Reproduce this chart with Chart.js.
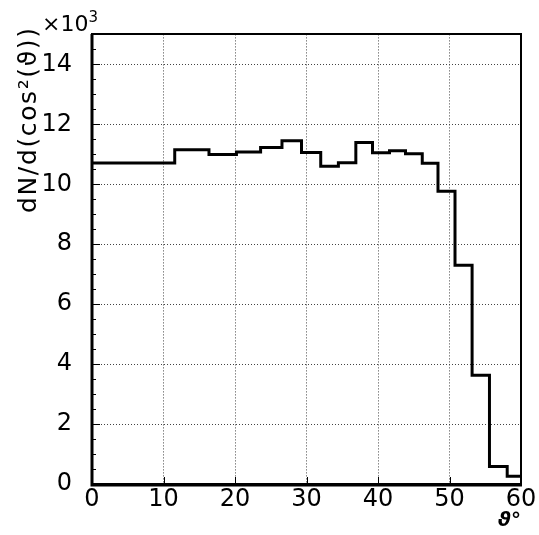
<!DOCTYPE html>
<html>
<head>
<meta charset="utf-8">
<script src="https://cdn.jsdelivr.net/npm/chart.js@4/dist/chart.umd.min.js"></script>
<style>
  html, body { margin: 0; padding: 0; background: #fff; }
  #wrap { width: 539px; height: 535px; }
</style>
</head>
<body>
<div id="wrap"><canvas id="c" width="539" height="535"></canvas></div>
<script>
// Bin edges in theta (degrees)
const binEdges = [0, 11.57, 16.36, 20.2, 23.58, 26.57, 29.3, 31.99, 34.46, 36.9, 39.23, 41.61, 43.85, 46.19, 48.39, 50.77, 53.16, 55.59, 58.07, 60];
// Counts per bin, in units of 10^3
const binCounts = [10.71, 11.15, 10.99, 11.08, 11.23, 11.45, 11.06, 10.60, 10.72, 11.39, 11.05, 11.12, 11.02, 10.70, 9.77, 7.30, 3.63, 0.58, 0.26];
const xTicks = [0, 10, 20, 30, 40, 50, 60];
const yTicks = [0, 2, 4, 6, 8, 10, 12, 14];
const yMinorTicks = [0.5, 1, 1.5, 2.5, 3, 3.5, 4.5, 5, 5.5, 6.5, 7, 7.5, 8.5, 9, 9.5, 10.5, 11, 11.5, 12.5, 13, 13.5, 14.5];
const xTitle = 'ϑ°';
const yTitle = 'dN/d(cos²(ϑ))';
const exponentBase = '×10';
const exponentPower = '3';

const points = binCounts.map((v, i) => ({ x: binEdges[i], y: v }));
points.push({ x: binEdges[binEdges.length - 1], y: binCounts[binCounts.length - 1] });

const FONT = '"DejaVu Sans", sans-serif';

const framePlugin = {
  id: 'rootFrame',
  afterDatasetsDraw(chart) {
    const { ctx, chartArea: a, scales } = chart;
    const xs = scales.x, ys = scales.y;
    ctx.save();
    ctx.strokeStyle = '#000';
    // inner ticks
    ctx.lineWidth = 1;
    ctx.beginPath();
    yTicks.forEach(v => {
      const y = Math.round(ys.getPixelForValue(v)) + 0.5;
      ctx.moveTo(a.left, y); ctx.lineTo(a.left + 8, y);
    });
    yMinorTicks.forEach(v => {
      const y = Math.round(ys.getPixelForValue(v)) + 0.5;
      ctx.moveTo(a.left, y); ctx.lineTo(a.left + 4, y);
    });
    xTicks.forEach(v => {
      const x = Math.round(xs.getPixelForValue(v)) + 0.5;
      ctx.moveTo(x, a.bottom); ctx.lineTo(x, a.bottom - 7);
    });
    ctx.stroke();
    // frame
    ctx.lineWidth = 2;
    ctx.strokeRect(Math.round(a.left), Math.round(a.top), Math.round(a.right) - Math.round(a.left), Math.round(a.bottom) - Math.round(a.top));
    ctx.lineWidth = 3;
    ctx.beginPath();
    ctx.moveTo(Math.round(a.left), Math.round(a.top));
    ctx.lineTo(Math.round(a.left), Math.round(a.bottom) + 1);
    ctx.lineTo(Math.round(a.right) + 1, Math.round(a.bottom) + 1);
    ctx.stroke();
    // exponent label
    ctx.fillStyle = '#000';
    ctx.textBaseline = 'alphabetic';
    ctx.textAlign = 'left';
    ctx.font = '22px ' + FONT;
    ctx.fillText(exponentBase, 42, 31);
    const w = ctx.measureText(exponentBase).width;
    ctx.font = '15px ' + FONT;
    ctx.fillText(exponentPower, 42 + w, 22);
    // y-axis title (rotated), stretched to the reference length
    ctx.save();
    ctx.translate(36, 213);
    ctx.rotate(-Math.PI / 2);
    ctx.font = '25px ' + FONT;
    const tw = ctx.measureText(yTitle).width;
    const target = 185;
    if ('letterSpacing' in ctx && tw < target) {
      ctx.letterSpacing = ((target - tw) / (yTitle.length - 1)).toFixed(2) + 'px';
    }
    ctx.fillText(yTitle, 0, 0);
    ctx.restore();
    ctx.restore();
  }
};

new Chart(document.getElementById('c'), {
  type: 'line',
  data: {
    datasets: [{
      data: points,
      stepped: true,
      borderColor: '#000',
      borderWidth: 3,
      pointRadius: 0,
      fill: false,
      tension: 0
    }]
  },
  options: {
    responsive: false,
    animation: false,
    devicePixelRatio: 1,
    layout: { padding: { top: 31, right: 18, left: 0, bottom: 0 } },
    plugins: { legend: { display: false }, tooltip: { enabled: false } },
    scales: {
      x: {
        type: 'linear',
        min: 0, max: 60,
        afterBuildTicks: s => { s.ticks = xTicks.map(v => ({ value: v })); },
        afterFit: s => { s.height = 51; },
        grid: { color: '#444', lineWidth: 1, drawTicks: false },
        border: { display: false, dash: [1, 2] },
        ticks: { color: '#000', font: { family: FONT, size: 24 }, padding: 1, maxRotation: 0 },
        title: { display: true, text: xTitle, align: 'end', color: '#000',
                 font: { family: FONT, size: 20, style: 'italic', weight: 'bold' }, padding: { top: 0, bottom: 2 } }
      },
      y: {
        type: 'linear',
        min: 0, max: 15,
        afterBuildTicks: s => { s.ticks = yTicks.map(v => ({ value: v })); },
        afterFit: s => { s.width = 92; },
        grid: { color: '#444', lineWidth: 1, drawTicks: false },
        border: { display: false, dash: [1, 2] },
        ticks: { color: '#000', font: { family: FONT, size: 24 }, padding: 20 },
        title: { display: false, text: yTitle }
      }
    }
  },
  plugins: [framePlugin]
});
</script>
</body>
</html>
